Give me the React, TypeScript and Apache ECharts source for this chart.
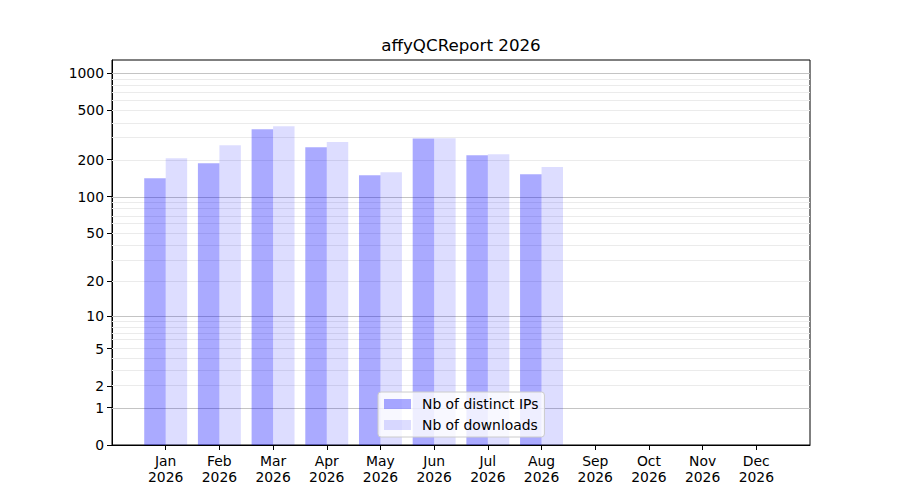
import React, { useEffect, useRef } from "react";
import * as echarts from "echarts";

const months = ["Jan", "Feb", "Mar", "Apr", "May", "Jun", "Jul", "Aug", "Sep", "Oct", "Nov", "Dec"];
const year = "2026";
const distinctIPs = [141, 187, 352, 252, 149, 297, 217, 152, 0, 0, 0, 0];
const downloads = [205, 261, 373, 278, 158, 298, 221, 174, 0, 0, 0, 0];
const yTicks = [0, 1, 2, 5, 10, 20, 50, 100, 200, 500, 1000];
const majorGrid = [1, 10, 100, 1000];
const minorGrid = [2, 3, 4, 5, 6, 7, 8, 9, 20, 30, 40, 50, 60, 70, 80, 90, 200, 300, 400, 500, 600, 700, 800, 900];

const tf = (v: number) => Math.log10(v + 1);
const FONT = "DejaVu Sans";

export default function App() {
  const ref = useRef<HTMLDivElement>(null);
  useEffect(() => {
    if (!ref.current) return;
    const chart = echarts.init(ref.current, null, { renderer: "svg" });
    const gridLines = [
      ...minorGrid.map((v) => ({ yAxis: tf(v), lineStyle: { color: "#ebebeb", width: 1, type: "solid" } })),
      ...majorGrid.map((v) => ({ yAxis: tf(v), lineStyle: { color: "#c4c4c4", width: 1, type: "solid" } })),
    ];
    chart.setOption({
      animation: false,
      backgroundColor: "#ffffff",
      textStyle: { fontFamily: FONT },
      title: {
        text: "affyQCReport " + year,
        left: 461,
        top: 36,
        textAlign: "center",
        padding: 0,
        textStyle: { fontFamily: FONT, fontSize: 16.7, fontWeight: "normal", color: "#000" },
      },
      grid: {
        left: 112,
        right: 90,
        top: 60,
        bottom: 55,
        show: true,
        borderColor: "#000",
        borderWidth: 1,
        backgroundColor: "transparent",
      },
      legend: {
        orient: "vertical",
        left: 378,
        top: 392,
        padding: [5, 6, 5, 6],
        itemGap: 7,
        itemWidth: 27,
        itemHeight: 10,
        icon: "rect",
        backgroundColor: "rgba(255,255,255,0.8)",
        borderColor: "#cccccc",
        borderWidth: 1,
        borderRadius: 3,
        textStyle: { fontFamily: FONT, fontSize: 13.9, color: "#000", padding: [0, 0, 0, 6] },
        data: ["Nb of distinct IPs", "Nb of downloads"],
      },
      xAxis: {
        type: "value",
        min: -1,
        max: 12,
        interval: 1,
        splitLine: { show: false },
        axisLine: { show: true, onZero: false, lineStyle: { color: "#000", width: 1 } },
        axisTick: {
          show: true,
          length: 5,
          inside: false,
          customValues: months.map((_, i) => i),
          lineStyle: { color: "#000" },
        },
        axisLabel: {
          show: true,
          margin: 8,
          customValues: months.map((_, i) => i),
          formatter: (v: number) => months[Math.round(v)] + "\n" + year,
          fontFamily: FONT,
          fontSize: 13.9,
          lineHeight: 16,
          color: "#000",
        },
      },
      yAxis: {
        type: "value",
        min: 0,
        max: 3.107,
        splitLine: { show: false },
        axisLine: { show: true, onZero: false, lineStyle: { color: "#000", width: 1 } },
        axisTick: {
          show: true,
          length: 5,
          customValues: yTicks.map(tf),
          lineStyle: { color: "#000" },
        },
        axisLabel: {
          show: true,
          margin: 8,
          customValues: yTicks.map(tf),
          formatter: (v: number) => String(Math.round(Math.pow(10, v) - 1)),
          fontFamily: FONT,
          fontSize: 13.9,
          color: "#000",
        },
      },
      series: [
        {
          type: "line",
          data: [],
          silent: true,
          z: 1,
          markLine: {
            silent: true,
            symbol: ["none", "none"],
            label: { show: false },
            data: gridLines,
            z: 1,
          },
        },
        {
          name: "Nb of distinct IPs",
          type: "bar",
          z: 2,
          barGap: "0%",
          barCategoryGap: "20%",
          itemStyle: { color: "rgba(0,0,255,0.333)" },
          data: distinctIPs.map((v, i) => [i, tf(v)]),
        },
        {
          name: "Nb of downloads",
          type: "bar",
          z: 2,
          barGap: "0%",
          barCategoryGap: "20%",
          itemStyle: { color: "rgba(0,0,255,0.133)" },
          data: downloads.map((v, i) => [i, tf(v)]),
        },
      ],
    });
    return () => chart.dispose();
  }, []);
  return <div ref={ref} style={{ position: "fixed", left: 0, top: 0, width: 900, height: 500 }} />;
}
